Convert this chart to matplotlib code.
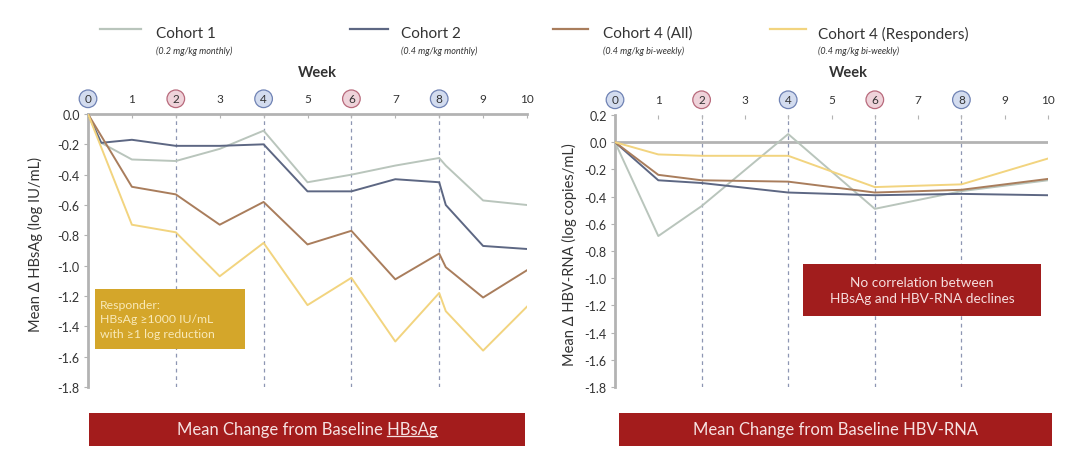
import matplotlib
matplotlib.use("Agg")
import matplotlib.pyplot as plt
from matplotlib.patches import Rectangle
from matplotlib.lines import Line2D

plt.rcParams['font.family'] = ['Lato', 'DejaVu Sans']

# HBsAg, mean change from baseline (log IU/mL)
weeks_monthly = [0, 0.3, 1, 2, 3, 4, 5, 6, 7, 8, 8.15, 9, 10]
hbsag_c1 = [0, -0.19, -0.30, -0.31, -0.23, -0.11, -0.45, -0.40, -0.34, -0.29, -0.34, -0.57, -0.60]
hbsag_c2 = [0, -0.19, -0.17, -0.21, -0.21, -0.20, -0.51, -0.51, -0.43, -0.45, -0.60, -0.87, -0.89]
weeks_biweekly = [0, 1, 2, 3, 4, 5, 6, 7, 8, 8.15, 9, 10]
hbsag_c4 = [0, -0.48, -0.53, -0.73, -0.58, -0.86, -0.77, -1.09, -0.92, -1.01, -1.21, -1.03]
hbsag_c4r = [0, -0.73, -0.78, -1.07, -0.85, -1.26, -1.08, -1.50, -1.18, -1.30, -1.56, -1.27]

# HBV-RNA, mean change from baseline (log copies/mL)
weeks_rna = [0, 1, 2, 4, 6, 8, 10]
rna_c1 = [0, -0.69, -0.47, 0.06, -0.49, -0.36, -0.28]
rna_c2 = [0, -0.28, -0.30, -0.37, -0.39, -0.38, -0.39]
rna_c4 = [0, -0.24, -0.28, -0.29, -0.37, -0.35, -0.27]
rna_c4r = [0, -0.09, -0.10, -0.10, -0.33, -0.31, -0.12]

cohort_names = ["Cohort 1", "Cohort 2", "Cohort 4 (All)", "Cohort 4 (Responders)"]
cohort_doses = ["(0.2 mg/kg monthly)", "(0.4 mg/kg monthly)",
                "(0.4 mg/kg bi-weekly)", "(0.4 mg/kg bi-weekly)"]
colors = ["#b9c5bc", "#5d6783", "#a97d5c", "#f2d47f"]

week_ticks = list(range(11))
dose_weeks = [0, 2, 4, 6, 8]
dose_kind = {0: "b", 2: "r", 4: "b", 6: "r", 8: "b"}
hbsag_ticks = [0.0, -0.2, -0.4, -0.6, -0.8, -1.0, -1.2, -1.4, -1.6, -1.8]
rna_ticks = [0.2, 0.0, -0.2, -0.4, -0.6, -0.8, -1.0, -1.2, -1.4, -1.6, -1.8]

W, H = 1072, 460
fig = plt.figure(figsize=(W / 100, H / 100), dpi=100)
fig.patch.set_facecolor("white")


def fx(x):
    return x / W


def fy(y):
    return 1 - y / H


ax1 = fig.add_axes([fx(88), fy(388), fx(439), 273 / H])
ax2 = fig.add_axes([fx(615), fy(388), fx(433), 272 / H])

spine_col = "#b3b3b3"
text_col = "#333333"


def style_axes(ax, yticks, ytop):
    ax.set_xlim(0, 10)
    ax.set_ylim(-1.8, ytop)
    for s in ["right", "bottom"]:
        ax.spines[s].set_visible(False)
    ax.spines["left"].set_color(spine_col)
    ax.spines["left"].set_linewidth(2)
    ax.spines["top"].set_color(spine_col)
    ax.spines["top"].set_linewidth(2)
    ax.xaxis.tick_top()
    ax.set_xticks(week_ticks)
    ax.set_xticklabels([str(w) for w in week_ticks])
    ax.tick_params(axis="x", length=3, direction="in", color=spine_col,
                   labelsize=8.5, pad=7, labelcolor=text_col)
    ax.set_yticks(yticks)
    ax.set_yticklabels([f"{v:.1f}" for v in yticks])
    ax.tick_params(axis="y", length=3, color=spine_col, labelsize=9,
                   labelcolor=text_col, pad=3)
    for w, lbl in zip(week_ticks, ax.get_xticklabels()):
        if w in dose_kind:
            if dose_kind[w] == "b":
                fc, ec = "#d3dcef", "#6f82b4"
            else:
                fc, ec = "#efd3da", "#b86a7c"
            lbl.set_bbox(dict(boxstyle="circle,pad=0.28", fc=fc, ec=ec, lw=0.9))
    # dashed guides at dosing weeks
    ax.vlines(dose_weeks[1:], -1.8, ytop, colors="#8d96b3", linestyles=(0, (3, 3)),
              linewidth=0.9, zorder=1)


style_axes(ax1, hbsag_ticks, 0.0)
style_axes(ax2, rna_ticks, 0.2)
ax2.spines["top"].set_visible(False)
ax2.axhline(0, color=spine_col, lw=2, zorder=1)

lw = 1.4
ax1.plot(weeks_monthly, hbsag_c1, color=colors[0], lw=lw, zorder=3)
ax1.plot(weeks_monthly, hbsag_c2, color=colors[1], lw=lw, zorder=3)
ax1.plot(weeks_biweekly, hbsag_c4, color=colors[2], lw=lw, zorder=3)
ax1.plot(weeks_biweekly, hbsag_c4r, color=colors[3], lw=lw, zorder=3)

ax2.plot(weeks_rna, rna_c1, color=colors[0], lw=lw, zorder=3)
ax2.plot(weeks_rna, rna_c2, color=colors[1], lw=lw, zorder=3)
ax2.plot(weeks_rna, rna_c4, color=colors[2], lw=lw, zorder=3)
ax2.plot(weeks_rna, rna_c4r, color=colors[3], lw=lw, zorder=3)

# axis titles
fig.text(fx(317), fy(73), "Week", ha="center", va="center", fontsize=10.5,
         fontweight="bold", color=text_col)
fig.text(fx(848), fy(73), "Week", ha="center", va="center", fontsize=10.5,
         fontweight="bold", color=text_col)
fig.text(fx(35), fy(245), "Mean \u0394 HBsAg (log IU/mL)", rotation=90,
         ha="center", va="center", fontsize=10.5, color=text_col)
fig.text(fx(569), fy(255), "Mean \u0394 HBV-RNA (log copies/mL)", rotation=90,
         ha="center", va="center", fontsize=10.5, color=text_col)

# legend row
leg_line_x = [(100, 141), (350, 388), (553, 588), (770, 806)]
leg_text_x = [156, 401, 603, 818]
for (x0, x1), tx, name, dose, c in zip(leg_line_x, leg_text_x, cohort_names,
                                       cohort_doses, colors):
    fig.add_artist(Line2D([fx(x0), fx(x1)], [fy(30), fy(30)], color=c, lw=1.6,
                          transform=fig.transFigure))
    fig.text(fx(tx), fy(34), name, ha="left", va="center", fontsize=11,
             color=text_col)
    fig.text(fx(tx), fy(51), dose, ha="left", va="center", fontsize=6.5,
             style="italic", color=text_col)

# responder definition box
fig.add_artist(Rectangle((fx(95), fy(350)), fx(150), 60 / H, facecolor="#d4a62a",
                         edgecolor="none", transform=fig.transFigure, zorder=5))
fig.text(fx(100), fy(320), "Responder:\nHBsAg \u22651000 IU/mL\nwith \u22651 log reduction",
         ha="left", va="center", fontsize=8.8, color="#f8e9b8", linespacing=1.35,
         zorder=6)

# correlation note
fig.add_artist(Rectangle((fx(803), fy(317)), fx(238), 52 / H, facecolor="#a11d1d",
                         edgecolor="none", transform=fig.transFigure, zorder=5))
fig.text(fx(922), fy(291), "No correlation between\nHBsAg and HBV-RNA declines",
         ha="center", va="center", fontsize=9.8, color="#f6dede", linespacing=1.35,
         zorder=6)

# bottom banners
banners = [(89, 525, "Mean Change from Baseline HBsAg"),
           (619, 1052, "Mean Change from Baseline HBV-RNA")]
banner_texts = []
for x0, x1, label in banners:
    fig.add_artist(Rectangle((fx(x0), fy(447)), fx(x1 - x0), 33 / H,
                             facecolor="#a31c1c", edgecolor="none",
                             transform=fig.transFigure))
    t = fig.text(fx((x0 + x1) / 2), fy(430), label, ha="center", va="center",
                 fontsize=12, color="#f6e2e2")
    banner_texts.append(t)

# underline the HBsAg word in the left banner
fig.canvas.draw()
renderer = fig.canvas.get_renderer()
full = banner_texts[0].get_window_extent(renderer)
probe = fig.text(0, 0, "HBsAg", fontsize=12)
word_w = probe.get_window_extent(renderer).width
probe.remove()
inv = fig.transFigure.inverted()
(ux0, uy), (ux1, _) = inv.transform([(full.x1 - word_w, full.y0 + 1),
                                     (full.x1, full.y0 + 1)])
fig.add_artist(Line2D([ux0, ux1], [uy, uy], color="#f6e2e2", lw=0.9,
                      transform=fig.transFigure))

fig.savefig("out.png", dpi=100, facecolor="white")
